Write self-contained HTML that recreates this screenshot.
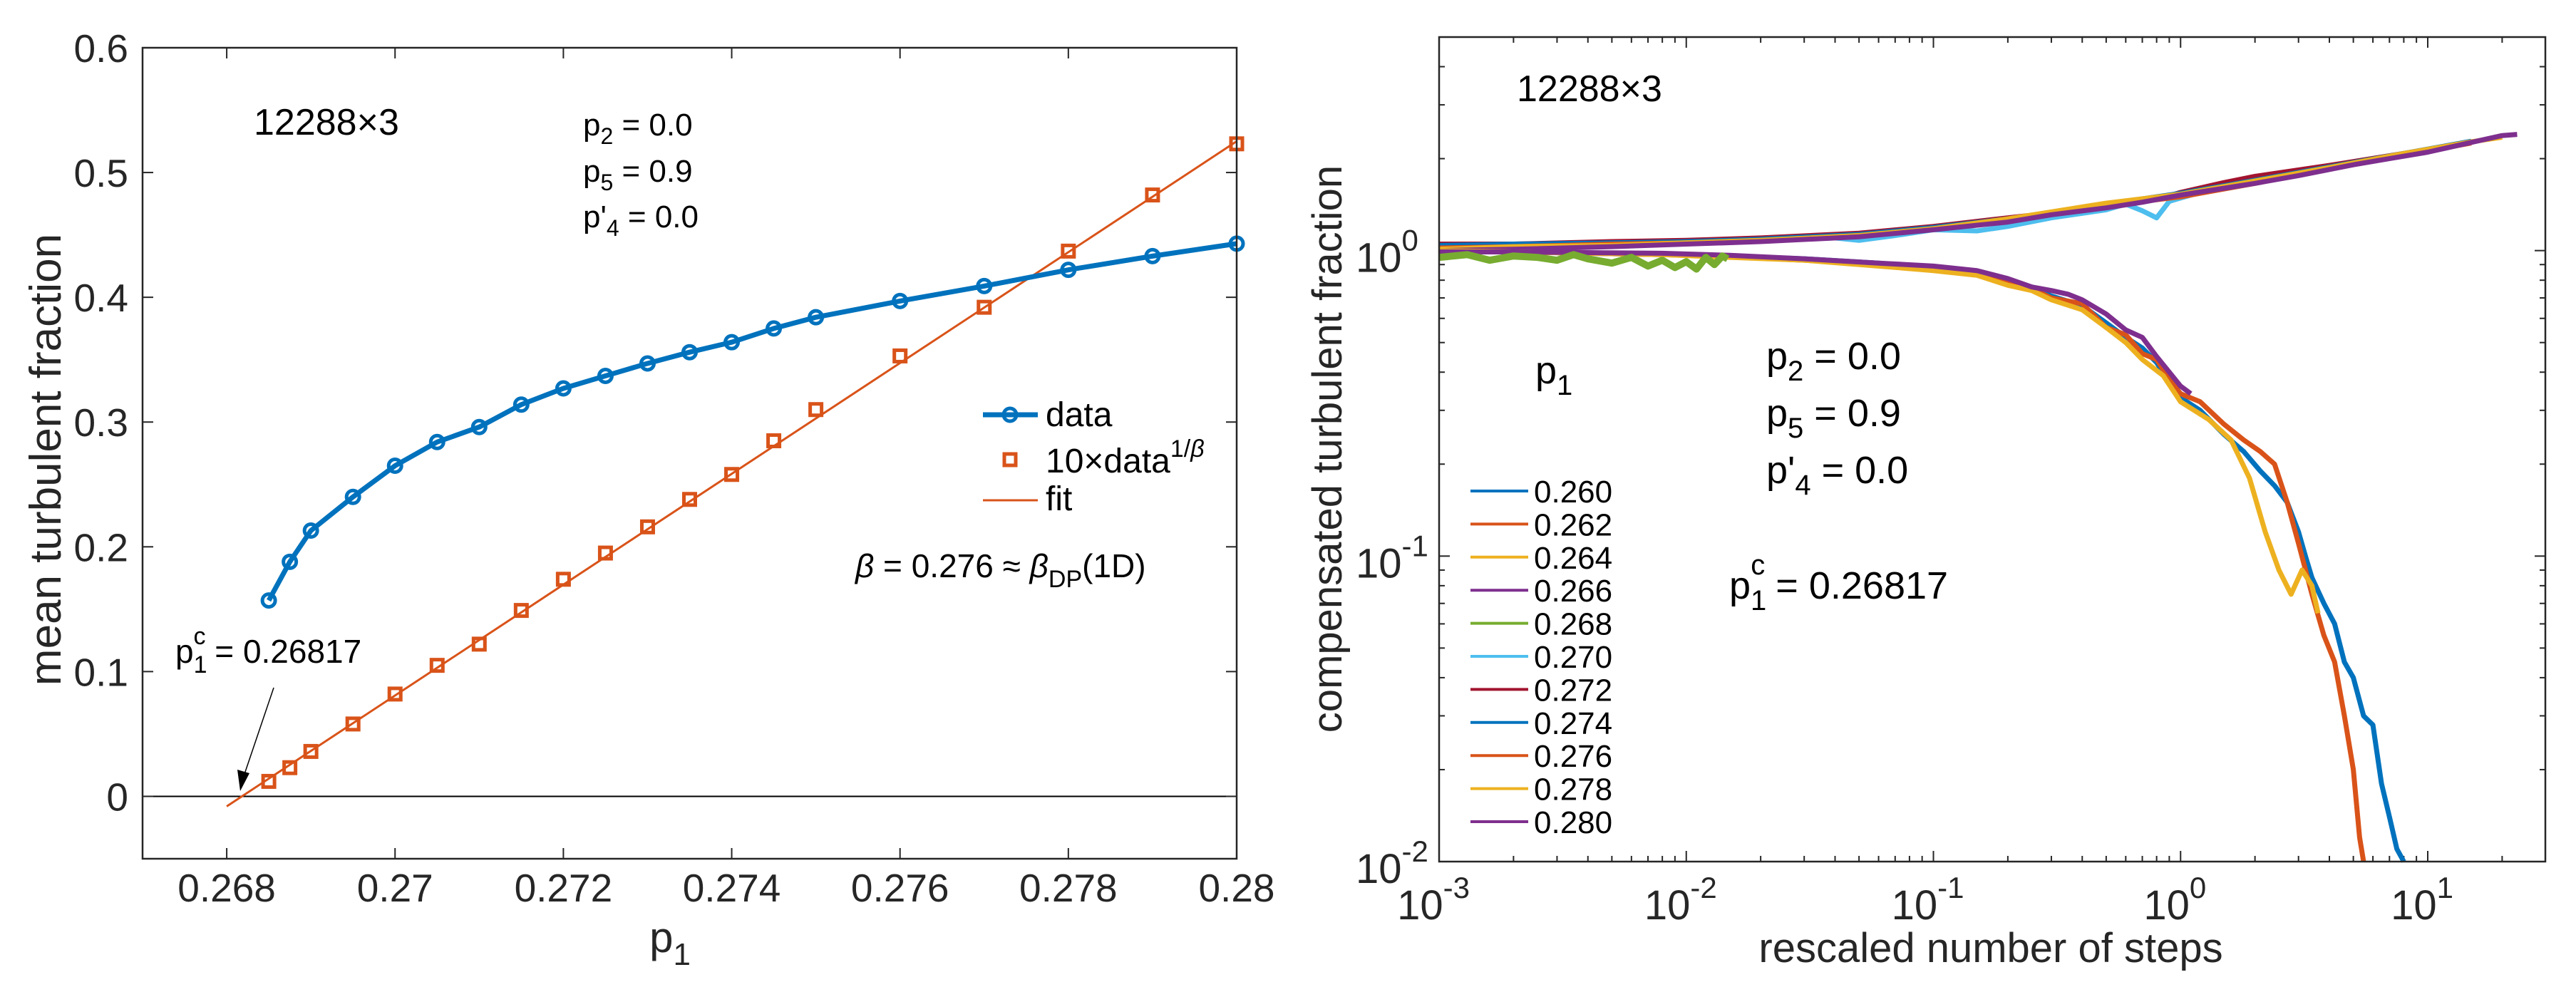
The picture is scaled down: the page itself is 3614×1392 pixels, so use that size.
<!DOCTYPE html>
<html><head><meta charset="utf-8"><style>
html,body{margin:0;padding:0;background:#fff;}
svg{display:block;font-family:"Liberation Sans",sans-serif;}
</style></head><body>
<svg id="fig" width="3614" height="1392" viewBox="0 0 3614 1392" xmlns="http://www.w3.org/2000/svg">
<rect width="3614" height="1392" fill="#fff"/>
<g id="left"></g>
<g id="right"></g>
</svg>
<script>
// ---------- LEFT CHART DATA ----------
const leftP1 = [0.2685,0.26875,0.269,0.2695,0.270,0.2705,0.271,0.2715,0.272,0.2725,0.273,0.2735,0.274,0.2745,0.275,0.276,0.277,0.278,0.279,0.280];
const leftData = [0.157,0.188,0.213,0.240,0.265,0.284,0.296,0.314,0.327,0.337,0.347,0.356,0.364,0.375,0.384,0.397,0.409,0.422,0.433,0.443];
const leftScaled = [0.012,0.023,0.036,0.058,0.082,0.105,0.122,0.149,0.174,0.195,0.216,0.238,0.258,0.285,0.310,0.353,0.392,0.437,0.482,0.523];
const fitX = [0.268,0.280];
const fitY = [-0.008,0.525];
const leftXTicks = [0.268,0.270,0.272,0.274,0.276,0.278,0.280];
const leftXTickLabels = ["0.268","0.27","0.272","0.274","0.276","0.278","0.28"];
const leftYTicks = [0,0.1,0.2,0.3,0.4,0.5,0.6];
const leftYTickLabels = ["0","0.1","0.2","0.3","0.4","0.5","0.6"];

// ---------- RIGHT CHART DATA ----------
const rightLabels = ["0.260","0.262","0.264","0.266","0.268","0.270","0.272","0.274","0.276","0.278","0.280"];
const rightColors = ["#0072BD","#D95319","#EDB120","#7E2F8E","#77AC30","#4DBEEE","#A2142F","#0072BD","#D95319","#EDB120","#7E2F8E"];
const x260 = [0.001,0.002,0.004,0.008,0.015,0.03,0.06,0.1,0.15,0.2,0.25,0.3,0.4,0.5,0.6,0.7,0.8,0.9,1.0,1.2,1.5,1.8,2.1,2.4,2.7,3.0,3.2,3.4,3.8,4.2,4.6,5.0,5.5,6.0,6.5,7.0,7.5,8.0];
const y260 = [1.0,0.99,0.98,0.97,0.96,0.94,0.91,0.88,0.84,0.80,0.76,0.71,0.66,0.58,0.52,0.48,0.43,0.37,0.33,0.30,0.25,0.22,0.19,0.17,0.15,0.12,0.10,0.085,0.07,0.06,0.045,0.04,0.03,0.028,0.018,0.014,0.011,0.010];
const x262 = [0.001,0.002,0.004,0.008,0.015,0.03,0.06,0.1,0.15,0.2,0.25,0.3,0.4,0.5,0.6,0.7,0.8,0.9,1.0,1.2,1.5,1.8,2.1,2.4,2.7,3.0,3.4,3.8,4.2,4.6,5.0,5.3,5.5];
const y262 = [1.0,0.99,0.98,0.97,0.955,0.93,0.90,0.87,0.85,0.78,0.75,0.70,0.67,0.56,0.53,0.46,0.44,0.38,0.34,0.32,0.27,0.24,0.22,0.20,0.15,0.11,0.075,0.055,0.045,0.03,0.02,0.012,0.010];
const x264 = [0.001,0.002,0.004,0.008,0.015,0.03,0.06,0.1,0.15,0.2,0.25,0.3,0.4,0.5,0.6,0.7,0.85,1.0,1.3,1.6,1.9,2.2,2.5,2.8,3.1,3.4,3.6];
const y264 = [1.0,0.99,0.98,0.97,0.95,0.93,0.89,0.86,0.83,0.77,0.74,0.69,0.64,0.56,0.50,0.44,0.39,0.32,0.28,0.24,0.18,0.12,0.09,0.075,0.09,0.08,0.065];
const x266 = [0.001,0.002,0.004,0.008,0.015,0.03,0.06,0.1,0.15,0.2,0.25,0.3,0.35,0.4,0.5,0.6,0.7,0.8,0.9,1.0,1.1];
const y266 = [0.99,0.99,0.985,0.98,0.965,0.94,0.91,0.89,0.86,0.81,0.76,0.74,0.72,0.69,0.62,0.55,0.52,0.45,0.40,0.36,0.34];
const x268 = [0.001,0.0013,0.0016,0.002,0.0025,0.003,0.0035,0.004,0.005,0.006,0.007,0.008,0.009,0.010,0.011,0.012,0.013,0.014,0.0147];
const y268 = [0.95,0.97,0.93,0.96,0.95,0.93,0.97,0.94,0.91,0.95,0.89,0.93,0.88,0.92,0.87,0.95,0.90,0.96,0.94];
const x270 = [0.001,0.002,0.005,0.01,0.02,0.04,0.05,0.07,0.1,0.15,0.2,0.3,0.5,0.6,0.7,0.8,0.9,1.2,2,4,8];
const y270 = [1.03,1.04,1.05,1.06,1.08,1.10,1.08,1.12,1.17,1.16,1.20,1.28,1.36,1.42,1.35,1.28,1.45,1.55,1.70,1.88,2.08];
const x272 = [0.001,0.002,0.005,0.01,0.02,0.05,0.1,0.2,0.5,0.8,1.0,1.5,2,4,8,12];
const y272 = [1.05,1.05,1.07,1.08,1.10,1.14,1.20,1.28,1.39,1.47,1.55,1.67,1.75,1.90,2.08,2.20];
const x274 = [0.001,0.002,0.005,0.01,0.02,0.05,0.1,0.2,0.5,1.0,2,4,8,15];
const y274 = [1.04,1.05,1.06,1.07,1.09,1.13,1.19,1.27,1.42,1.54,1.70,1.88,2.08,2.28];
const x276 = [0.001,0.002,0.005,0.01,0.02,0.05,0.1,0.2,0.5,1.0,2,4,8,15];
const y276 = [1.02,1.03,1.05,1.06,1.08,1.12,1.18,1.26,1.40,1.50,1.66,1.85,2.05,2.25];
const x278 = [0.001,0.002,0.005,0.01,0.02,0.05,0.1,0.2,0.5,1.0,2,4,8,15,20];
const y278 = [1.01,1.03,1.04,1.06,1.08,1.12,1.18,1.27,1.43,1.53,1.69,1.87,2.08,2.27,2.35];
const x280 = [0.001,0.002,0.005,0.01,0.02,0.05,0.1,0.2,0.3,0.5,0.7,1.0,1.5,2,3,5,7,10,15,20,23];
const y280 = [1.00,1.01,1.03,1.05,1.07,1.11,1.17,1.24,1.31,1.38,1.44,1.52,1.60,1.66,1.76,1.91,2.00,2.10,2.26,2.38,2.40];
const rightXTicks = [-3,-2,-1,0,1];
const rightYTicks = [-2,-1,0];

const NS="http://www.w3.org/2000/svg";
function mk(parent,tag,attrs){const e=document.createElementNS(NS,tag);for(const k in attrs)e.setAttribute(k,attrs[k]);parent.appendChild(e);return e;}
function txt(parent,x,y,size,anchor,html){const t=mk(parent,'text',{x:x,y:y,'font-size':size,'text-anchor':anchor,fill:'#000'});t.innerHTML=html;return t;}

// ---------- LEFT CHART ----------
const L=document.getElementById('left');
const LX0=200,LX1=1735,LY0=67,LY1=1205;
function X(v){return LX0+(v-0.267)/0.013*(LX1-LX0);}
function Y(v){return LY0+(0.6-v)/0.65*(LY1-LY0);}
let zl=mk(L,'line',{x1:LX0,x2:LX1,y1:Y(0),y2:Y(0),stroke:'#000','stroke-width':2});


leftXTicks.forEach((v,i)=>{
  mk(L,'line',{x1:X(v),x2:X(v),y1:LY1,y2:LY1-15,stroke:'#262626','stroke-width':2});
  mk(L,'line',{x1:X(v),x2:X(v),y1:LY0,y2:LY0+15,stroke:'#262626','stroke-width':2});
  const t=txt(L,X(v),1265,55,'middle',leftXTickLabels[i]);t.setAttribute('fill','#262626');
  
  
});
leftYTicks.forEach((v,i)=>{
  mk(L,'line',{x1:LX0,x2:LX0+15,y1:Y(v),y2:Y(v),stroke:'#262626','stroke-width':2});
  mk(L,'line',{x1:LX1,x2:LX1-15,y1:Y(v),y2:Y(v),stroke:'#262626','stroke-width':2});
  const t=txt(L,180,Y(v)+20,55,'end',leftYTickLabels[i]);t.setAttribute('fill','#262626');
  
  
});
let fl=mk(L,'line',{x1:X(fitX[0]),y1:Y(fitY[0]),x2:X(fitX[1]),y2:Y(fitY[1]),stroke:'#D95319','stroke-width':3});


let dl=mk(L,'polyline',{points:leftP1.map((p,i)=>X(p)+','+Y(leftData[i])).join(' '),fill:'none',stroke:'#0072BD','stroke-width':7,'stroke-linejoin':'round'});


leftP1.forEach((p,i)=>{
  const c=mk(L,'circle',{cx:X(p),cy:Y(leftData[i]),r:9,fill:'none',stroke:'#0072BD','stroke-width':5});
  
  
  const s=mk(L,'rect',{x:X(p)-8,y:Y(leftScaled[i])-8,width:16,height:16,fill:'none',stroke:'#D95319','stroke-width':5});
  
  
});
let lb=mk(L,'rect',{x:LX0,y:LY0,width:LX1-LX0,height:LY1-LY0,fill:'none',stroke:'#262626','stroke-width':2.5});


let a;
a=txt(L,356,189,52,'start','12288×3');
a=txt(L,818,190,44,'start','p<tspan dy="12" font-size="32">2</tspan><tspan dy="-12"> = 0.0</tspan>');
a=txt(L,818,255,44,'start','p<tspan dy="12" font-size="32">5</tspan><tspan dy="-12"> = 0.9</tspan>');
a=txt(L,818,319,44,'start','p\'<tspan dy="12" font-size="32">4</tspan><tspan dy="-12"> = 0.0</tspan>');
a=txt(L,1200,810,46,'start','<tspan font-style="italic">β</tspan> = 0.276 ≈ <tspan font-style="italic">β</tspan><tspan dy="14" font-size="34">DP</tspan><tspan dy="-14">(1D)</tspan>');
a=txt(L,246,930,46,'start','p<tspan dy="14" font-size="34">1</tspan><tspan dx="-19" dy="-40" font-size="34">c</tspan><tspan dy="26"> = 0.26817</tspan>');
let ar=mk(L,'line',{x1:384,y1:965,x2:340,y2:1095,stroke:'#000','stroke-width':1.5});


mk(L,'polygon',{points:'337,1110 333,1080 350,1085',fill:'#000'});
let lg=mk(L,'g',{});


mk(lg,'line',{x1:1379,x2:1456,y1:582,y2:582,stroke:'#0072BD','stroke-width':7});
mk(lg,'circle',{cx:1417,cy:582,r:9,fill:'none',stroke:'#0072BD','stroke-width':5});
txt(lg,1467,598,48,'start','data');
mk(lg,'rect',{x:1409,y:637,width:16,height:16,fill:'none',stroke:'#D95319','stroke-width':5});
txt(lg,1467,663,48,'start','10×data<tspan dy="-22" font-size="34">1/<tspan font-style="italic">β</tspan></tspan>');
mk(lg,'line',{x1:1379,x2:1456,y1:702,y2:702,stroke:'#D95319','stroke-width':3});
txt(lg,1467,716,48,'start','fit');
a=txt(L,940,1336,60,'middle','p<tspan dy="18" font-size="44">1</tspan>');a.setAttribute('fill','#262626');
a=txt(L,0,0,62,'middle','mean turbulent fraction');a.setAttribute('fill','#262626');a.setAttribute('transform','translate(85,645) rotate(-90)');

// ---------- RIGHT CHART ----------
const R=document.getElementById('right');
const RX0=2019,RX1=3571,RY0=52,RY1=1209,DEC=346.75;
const LOG5=Math.log10(5);
function RX(v){return RX0+(Math.log10(v)+3)*DEC;}
function RY(v){return RY0+(LOG5-Math.log10(v))/(LOG5+2)*(RY1-RY0);}
for(let d=-3;d<=1;d++){for(let m=1;m<=9;m++){const v=m*Math.pow(10,d);const xx=RX(v);if(xx>RX1)break;const len=m===1?15:8;
  mk(R,'line',{x1:xx,x2:xx,y1:RY1,y2:RY1-len,stroke:'#262626','stroke-width':2});
  mk(R,'line',{x1:xx,x2:xx,y1:RY0,y2:RY0+len,stroke:'#262626','stroke-width':2});}}
for(let d=-2;d<=0;d++){for(let m=1;m<=9;m++){const v=m*Math.pow(10,d);const yy=RY(v);if(yy<RY0)break;const len=m===1?15:8;
  mk(R,'line',{x1:RX0,x2:RX0+len,y1:yy,y2:yy,stroke:'#262626','stroke-width':2});
  mk(R,'line',{x1:RX1,x2:RX1-len,y1:yy,y2:yy,stroke:'#262626','stroke-width':2});}}
rightXTicks.forEach(e=>{
  const t=txt(R,RX(Math.pow(10,e))-8,1290,58,'middle','10<tspan dy="-30" font-size="42">'+e+'</tspan>');t.setAttribute('fill','#262626');
  
  
});
rightYTicks.forEach(e=>{
  const t=txt(R,1902,RY(Math.pow(10,e))+30,58,'start','10<tspan dy="-30" font-size="42">'+e+'</tspan>');t.setAttribute('fill','#262626');
  
  
});
const seriesX=[x260,x262,x264,x266,x268,x270,x272,x274,x276,x278,x280];
const seriesY=[y260,y262,y264,y266,y268,y270,y272,y274,y276,y278,y280];
const drawOrder=[5,6,7,8,9,10,0,1,2,3,4];
drawOrder.forEach(k=>{
  const pts=seriesX[k].map((v,i)=>RX(v)+','+RY(Math.max(seriesY[k][i],0.01))).join(' ');
  const pl=mk(R,'polyline',{points:pts,fill:'none',stroke:rightColors[k],'stroke-width':(k===4?10:7),'stroke-linejoin':'round'});
  
  
});
let rb=mk(R,'rect',{x:RX0,y:RY0,width:RX1-RX0,height:RY1-RY0,fill:'none',stroke:'#262626','stroke-width':2.5});


const rl=mk(R,'g',{});


rightLabels.forEach((lab,i)=>{
  const yy=689+i*46.4;
  mk(rl,'line',{x1:2063,x2:2144,y1:yy,y2:yy,stroke:rightColors[i],'stroke-width':4});
  const t=txt(rl,2152,yy+16,44,'start',lab);
  
  
});
a=txt(R,2128,142,52,'start','12288×3');
a=txt(R,2154,538,54,'start','p<tspan dy="16" font-size="40">1</tspan>');
a=txt(R,2478,518,54,'start','p<tspan dy="16" font-size="40">2</tspan><tspan dy="-16"> = 0.0</tspan>');
a=txt(R,2478,598,54,'start','p<tspan dy="16" font-size="40">5</tspan><tspan dy="-16"> = 0.9</tspan>');
a=txt(R,2478,678,54,'start','p\'<tspan dy="16" font-size="40">4</tspan><tspan dy="-16"> = 0.0</tspan>');
a=txt(R,2426,840,54,'start','p<tspan dy="16" font-size="40">1</tspan><tspan dx="-22" dy="-50" font-size="40">c</tspan><tspan dy="34"> = 0.26817</tspan>');
a=txt(R,2793,1350,58,'middle','rescaled number of steps');a.setAttribute('fill','#262626');
a=txt(R,0,0,58,'middle','compensated turbulent fraction');a.setAttribute('fill','#262626');a.setAttribute('transform','translate(1882,630) rotate(-90)');
</script>
</body></html>
